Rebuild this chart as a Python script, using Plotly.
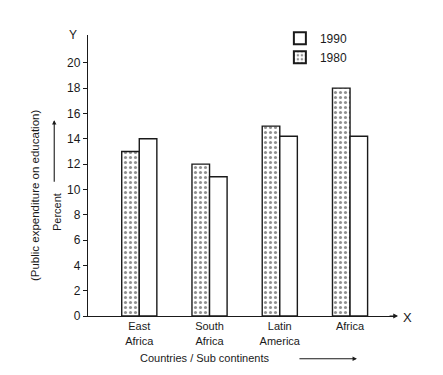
import plotly.graph_objects as go

categories = ["East<br>Africa", "South<br>Africa", "Latin<br>America", "Africa"]
positions = [0, 1, 2, 3]
values_1980 = [13, 12, 15, 18]
values_1990 = [14, 11, 14.2, 14.2]
y_ticks = [0, 2, 4, 6, 8, 10, 12, 14, 16, 18, 20]

FONT = "Liberation Sans, Arial, sans-serif"
INK = "#1a1a1a"

fig = go.Figure()
fig.add_trace(go.Bar(
    x=positions, y=values_1980, name="1980",
    marker=dict(color="white", line=dict(color=INK, width=1.4),
                pattern=dict(shape=".", fgcolor="#222", bgcolor="white", size=5, solidity=0.3)),
))
fig.add_trace(go.Bar(
    x=positions, y=values_1990, name="1990",
    marker=dict(color="white", line=dict(color=INK, width=1.4)),
))

# page body has an 8px margin, so margins are offset by 8px
fig.update_layout(
    width=443, height=375,
    margin=dict(l=80, r=56, t=27, b=67),
    paper_bgcolor="white", plot_bgcolor="white",
    barmode="group", bargap=0.5, bargroupgap=0,
    font=dict(family=FONT, size=11, color=INK),
    showlegend=True,
    legend=dict(x=0.625, y=1.04, xanchor="left", yanchor="top",
                traceorder="reversed", font=dict(size=12, color=INK),
                bgcolor="rgba(0,0,0,0)", itemsizing="constant", tracegroupgap=0),
    xaxis=dict(range=[-0.73, 3.64], tickvals=positions, ticktext=categories,
               showline=True, linecolor=INK, linewidth=1.3, ticks="",
               showgrid=False, zeroline=False, tickfont=dict(size=11)),
    yaxis=dict(range=[0, 22.2], tickvals=y_ticks, showline=True, linecolor=INK,
               linewidth=1.3, ticks="outside", ticklen=4, tickcolor=INK,
               showgrid=False, zeroline=False, tickfont=dict(size=12)),
)

ann = []
ann.append(dict(text="Y", xref="paper", yref="paper", x=-0.05, y=1.0, xanchor="center",
                yanchor="middle", showarrow=False, font=dict(size=12)))
ann.append(dict(text="X", xref="paper", yref="paper", x=1.04, y=-0.005, xanchor="center",
                yanchor="middle", showarrow=False, font=dict(size=13)))
ann.append(dict(text="(Public expenditure on education)", xref="paper", yref="paper",
                x=-0.173, y=0.43, xanchor="center", yanchor="middle",
                textangle=-90, showarrow=False, font=dict(size=11.5)))
ann.append(dict(text="Percent", xref="paper", yref="paper",
                x=-0.101, y=0.37, xanchor="center", yanchor="middle",
                textangle=-90, showarrow=False, font=dict(size=11)))
ann.append(dict(text="Countries / Sub continents", xref="paper", yref="paper",
                x=0.38, y=-0.149, xanchor="center", yanchor="middle",
                showarrow=False, font=dict(size=11)))
# decorative arrows (pixel offsets)
ann.append(dict(xref="paper", yref="paper", x=-0.11, y=0.697, ax=0, ay=63,
                showarrow=True, arrowhead=2, arrowsize=0.8, arrowwidth=1.1,
                arrowcolor=INK, text=""))
ann.append(dict(xref="paper", yref="paper", x=0.876, y=-0.152, ax=-59, ay=0,
                showarrow=True, arrowhead=2, arrowsize=0.8, arrowwidth=1.1,
                arrowcolor=INK, text=""))
ann.append(dict(xref="paper", yref="paper", x=1.01, y=0.0, ax=-10, ay=0,
                showarrow=True, arrowhead=2, arrowsize=0.8, arrowwidth=1.2,
                arrowcolor=INK, text=""))
fig.update_layout(annotations=ann)

fig.write_html("out.html")
